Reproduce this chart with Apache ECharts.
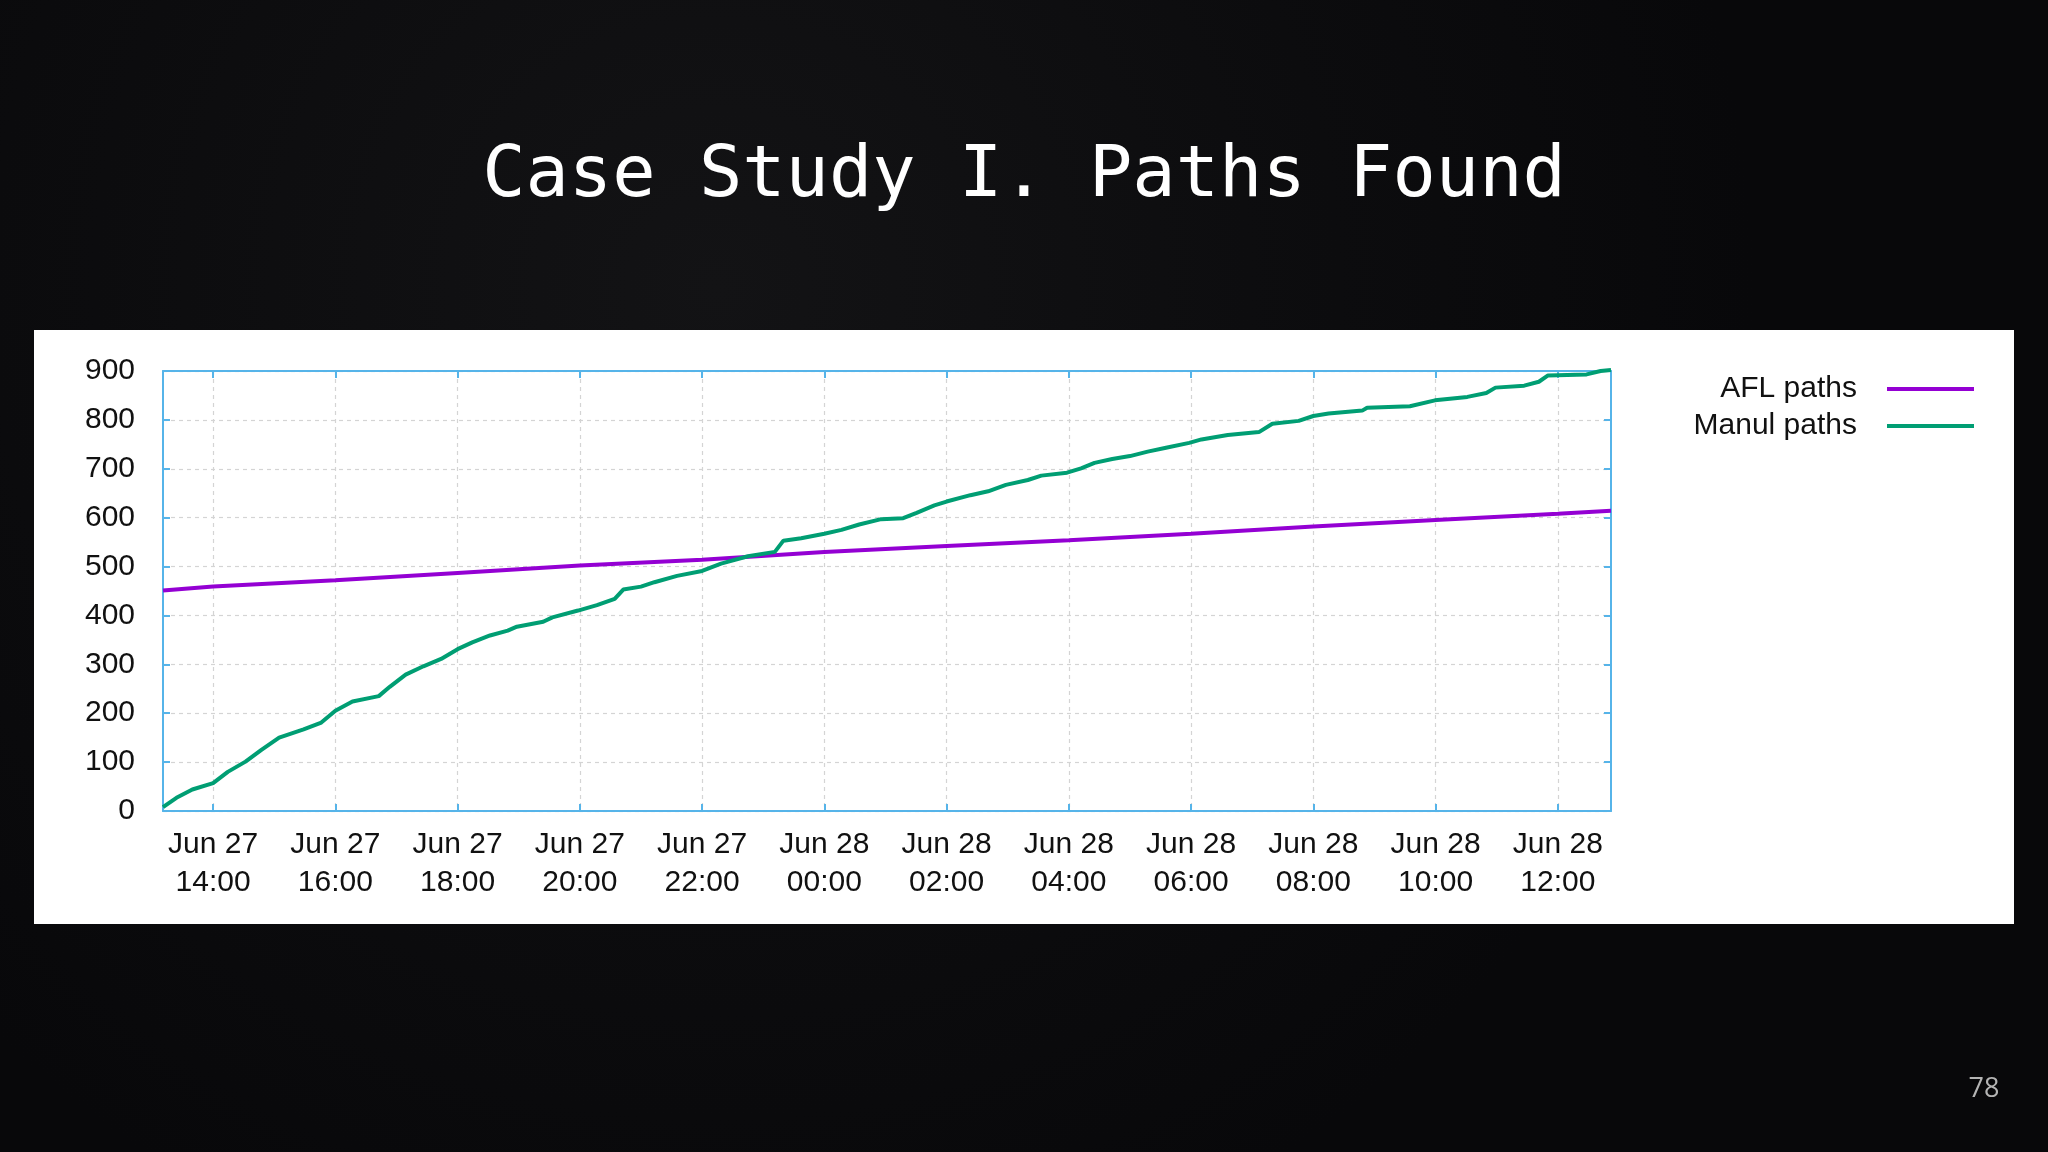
<!DOCTYPE html>
<html>
<head>
<meta charset="utf-8">
<script src="https://cdn.jsdelivr.net/npm/echarts@6/dist/echarts.min.js"></script>
<style>
html,body{margin:0;padding:0;background:#0a0a0b;}
#chart{width:2048px;height:1152px;}
</style>
</head>
<body>
<div id="chart"></div>
<script>
// Hours since Jun 27 00:00
const manulHours = [13.18, 13.40, 13.66, 14.0, 14.24, 14.53, 14.79, 15.08, 15.48, 15.77, 16.0, 16.28, 16.71, 16.89, 17.15, 17.44, 17.73, 18.0, 18.24, 18.53, 18.82, 18.97, 19.40, 19.55, 19.97, 20.28, 20.57, 20.71, 21.0, 21.22, 21.59, 22.0, 22.31, 22.75, 23.19, 23.33, 23.62, 24.0, 24.28, 24.57, 24.93, 25.29, 25.51, 25.80, 26.0, 26.39, 26.68, 26.97, 27.33, 27.55, 27.97, 28.20, 28.42, 28.71, 29.0, 29.29, 29.59, 29.97, 30.17, 30.60, 31.11, 31.33, 31.76, 32.0, 32.25, 32.80, 32.88, 33.58, 33.99, 34.52, 34.83, 34.98, 35.45, 35.69, 35.84, 36.47, 36.70, 36.87];
const manulPaths = [8, 27, 44, 57, 80, 101, 125, 150, 167, 181, 205, 224, 235, 254, 279, 296, 311, 331, 345, 359, 369, 377, 387, 396, 410, 421, 434, 453, 459, 468, 481, 491, 506, 521, 530, 553, 558, 567, 575, 586, 597, 599, 610, 625, 633, 646, 654, 667, 677, 686, 692, 701, 712, 720, 726, 735, 743, 753, 760, 769, 775, 792, 798, 808, 813, 819, 825, 828, 840, 847, 855, 866, 870, 878, 891, 893, 900, 902];
const aflHours = [13.18, 14, 16, 18, 20, 22, 24, 26, 28, 30, 32, 34, 36, 36.87];
const aflPaths = [451, 459, 472, 487, 502, 514, 530, 542, 554, 567, 582, 595, 608, 614];
const xTickHours = [14, 16, 18, 20, 22, 24, 26, 28, 30, 32, 34, 36];
const xTickLabels = ['Jun 27\n14:00', 'Jun 27\n16:00', 'Jun 27\n18:00', 'Jun 27\n20:00', 'Jun 27\n22:00', 'Jun 28\n00:00', 'Jun 28\n02:00', 'Jun 28\n04:00', 'Jun 28\n06:00', 'Jun 28\n08:00', 'Jun 28\n10:00', 'Jun 28\n12:00'];
const xMin = 13.18, xMax = 36.87;
const seriesNames = ['AFL paths', 'Manul paths'];
const seriesColors = ['#9400d3', '#009e73'];

const zip = (a, b) => a.map((v, i) => [v, b[i]]);
const borderColor = '#56b4e9';
const gridLine = { show: true, lineStyle: { color: '#d4d4d4', type: [4, 4], width: 1.2 } };
const labelFont = 'Liberation Sans, Arial, sans-serif';

const chart = echarts.init(document.getElementById('chart'));
chart.setOption({
  backgroundColor: {
    type: 'radial', x: 0.35, y: 0.25, r: 0.9,
    colorStops: [{ offset: 0, color: '#131315' }, { offset: 0.6, color: '#0c0c0e' }, { offset: 1, color: '#08080a' }]
  },
  animation: false,
  title: {
    text: 'Case Study I. Paths Found',
    left: 'center', top: 136,
    textStyle: { fontFamily: 'DejaVu Sans Mono', fontSize: 72, fontWeight: 'normal', color: '#ffffff', lineHeight: 72 }
  },
  graphic: [
    { type: 'rect', z: -100, shape: { x: 34, y: 330, width: 1980, height: 594 }, style: { fill: '#ffffff' } },
    { type: 'text', x: 1984, y: 1089, style: { text: '78', fill: '#b4b4b4', font: '27px "Open Sans", sans-serif', textAlign: 'center', textVerticalAlign: 'middle' } }
  ],
  legend: {
    orient: 'vertical', align: 'right', right: 74, top: 374, padding: 0,
    itemGap: 7, itemWidth: 87, itemHeight: 4, icon: 'rect',
    data: seriesNames,
    textStyle: { fontFamily: labelFont, fontSize: 30, color: '#111', lineHeight: 30, padding: [0, 25, 0, 0] }
  },
  grid: { left: 163, top: 371, right: 437, bottom: 341, containLabel: false },
  xAxis: [
    {
      type: 'value', min: xMin, max: xMax, position: 'bottom',
      axisLine: { show: true, onZero: false, lineStyle: { color: borderColor, width: 2 } },
      axisTick: { show: true, inside: true, length: 7, customValues: xTickHours, lineStyle: { color: borderColor, width: 2 } },
      axisLabel: {
        customValues: xTickHours, margin: 15, fontFamily: labelFont, fontSize: 30, color: '#111', lineHeight: 38,
        formatter: v => { const i = xTickHours.indexOf(v); return i >= 0 ? xTickLabels[i] : ''; }
      },
      splitLine: gridLine
    },
    {
      type: 'value', min: xMin, max: xMax, position: 'top',
      axisLine: { show: true, onZero: false, lineStyle: { color: borderColor, width: 2 } },
      axisTick: { show: true, inside: true, length: 7, customValues: xTickHours, lineStyle: { color: borderColor, width: 2 } },
      axisLabel: { show: false },
      splitLine: { show: false }
    }
  ],
  yAxis: [
    {
      type: 'value', min: 0, max: 900, interval: 100, position: 'left',
      axisLine: { show: true, onZero: false, lineStyle: { color: borderColor, width: 2 } },
      axisTick: { show: true, inside: true, length: 7, lineStyle: { color: borderColor, width: 2 } },
      axisLabel: { margin: 28, fontFamily: labelFont, fontSize: 30, color: '#111' },
      splitLine: gridLine
    },
    {
      type: 'value', min: 0, max: 900, interval: 100, position: 'right',
      axisLine: { show: true, onZero: false, lineStyle: { color: borderColor, width: 2 } },
      axisTick: { show: true, inside: true, length: 7, lineStyle: { color: borderColor, width: 2 } },
      axisLabel: { show: false },
      splitLine: { show: false }
    }
  ],
  series: [
    {
      name: seriesNames[0], type: 'line', data: zip(aflHours, aflPaths), showSymbol: false, symbol: 'none',
      clip: false, color: seriesColors[0], lineStyle: { width: 4, color: seriesColors[0] }, z: 3
    },
    {
      name: seriesNames[1], type: 'line', data: zip(manulHours, manulPaths), showSymbol: false, symbol: 'none',
      clip: false, color: seriesColors[1], lineStyle: { width: 4, color: seriesColors[1] }, z: 4
    }
  ]
});
</script>
</body>
</html>
